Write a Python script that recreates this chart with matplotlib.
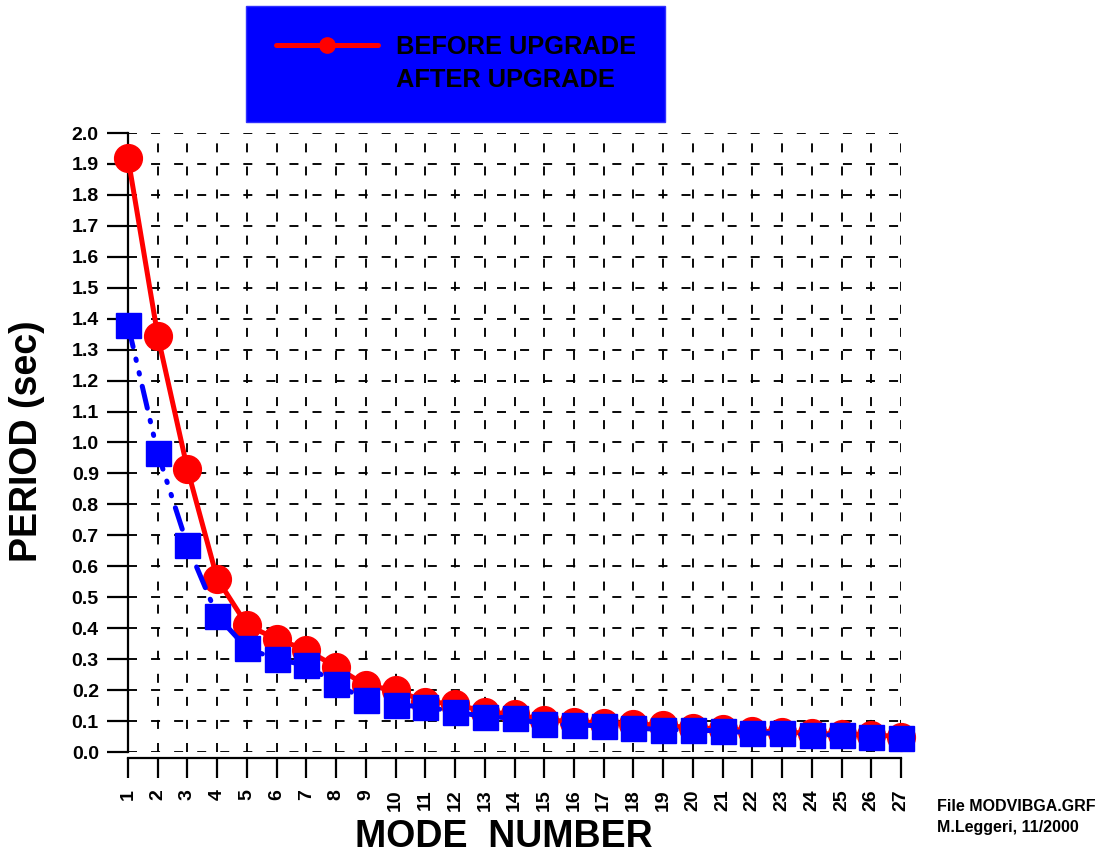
import matplotlib
matplotlib.use("Agg")
import matplotlib.pyplot as plt
from matplotlib.patches import Rectangle

plt.rcParams['font.family'] = ['Liberation Sans', 'DejaVu Sans']
plt.rcParams['font.weight'] = 'bold'

modes = list(range(1, 28))
before_upgrade = [1.92, 1.345, 0.914, 0.56, 0.41, 0.365, 0.33, 0.275, 0.215, 0.20,
                  0.163, 0.155, 0.13, 0.122, 0.104, 0.098, 0.094, 0.091, 0.086, 0.078,
                  0.075, 0.068, 0.065, 0.06, 0.058, 0.055, 0.05]
after_upgrade = [1.38, 0.966, 0.668, 0.44, 0.335, 0.30, 0.28, 0.22, 0.168, 0.152,
                 0.146, 0.13, 0.114, 0.11, 0.089, 0.088, 0.084, 0.078, 0.072, 0.071,
                 0.068, 0.062, 0.06, 0.055, 0.055, 0.05, 0.046]
y_ticks = [i / 10 for i in range(0, 21)]
legend_labels = ["BEFORE UPGRADE", "AFTER UPGRADE"]

W, H = 1110, 855
fig = plt.figure(figsize=(W / 100, H / 100), dpi=100)
ax = fig.add_axes([128 / W, 1 - 752 / H, (901 - 128) / W, (752 - 133) / H])

red, = ax.plot(modes, before_upgrade, color='#ff0000', lw=3.6, marker='o', ms=20,
               mec='#ff0000', mfc='#ff0000', clip_on=False, zorder=3,
               solid_capstyle='round')
blue, = ax.plot(modes, after_upgrade, color='#0000ff', lw=3.6, marker='s', ms=18,
                mec='#0000ff', mfc='#0000ff', clip_on=False, zorder=4,
                linestyle=(0, (4.5, 2.5, 0.3, 2.5, 0.3, 2.5)), dash_capstyle='round')

ax.set_xlim(1, 27)
ax.set_ylim(0, 2.0)

for s in ['top', 'right']:
    ax.spines[s].set_visible(False)
for s in ['left', 'bottom']:
    ax.spines[s].set_linewidth(1.6)
    ax.spines[s].set_color('black')
ax.spines['bottom'].set_position(('outward', 4.3))

ax.tick_params(axis='y', direction='out', length=15, width=1.6, pad=6, colors='black',
               labelsize=14)
ax.tick_params(axis='x', direction='out', length=14.5, width=1.6, pad=8, colors='black',
               labelsize=14, labelrotation=90)

ax.set_xticks(modes)
ax.set_xticklabels([str(m) for m in modes])
ax.set_yticks(y_ticks)
ax.set_yticklabels([f"{v:.1f}" for v in y_ticks])
for t in ax.get_xticklabels():
    t.set_fontweight('bold')
    t.set_va('top')
    t.set_ha('center')
for t in ax.get_yticklabels():
    t.set_fontweight('bold')

ax.grid(True, color='black', linestyle=(0, (4.8, 7.5)), linewidth=1.35, zorder=1)
ax.set_axisbelow(True)

xl = ax.set_xlabel("MODE  NUMBER", fontsize=27, fontweight='bold', va='center')
ax.xaxis.set_label_coords((504 - 128) / 773, (752 - 837) / 619)
yl = ax.set_ylabel("PERIOD (sec)", fontsize=27, fontweight='bold', va='center')
ax.yaxis.set_label_coords((27 - 128) / 773, (752 - 441) / 619)

# legend box
fig.patches.append(Rectangle((246 / W, 1 - 122 / H), (665 - 246) / W, (122 - 6) / H,
                             transform=fig.transFigure, facecolor='#0000ff',
                             edgecolor='#3030ff', lw=1, zorder=0))
fs = 18.3
fpx = fs * 100 / 72
leg = fig.legend([red, blue], legend_labels, loc='upper left',
                 bbox_to_anchor=(276 / W, 1 - 35 / H), frameon=False,
                 prop={'weight': 'bold', 'size': fs},
                 handlelength=102 / fpx, handletextpad=18 / fpx,
                 borderpad=0, borderaxespad=0, labelspacing=0.36, markerscale=0.55)
for t in leg.get_texts():
    t.set_color('black')

fig.text(937 / W, 1 - 811 / H, "File MODVIBGA.GRF", fontsize=11.5, fontweight='bold',
         ha='left', va='baseline')
fig.text(937 / W, 1 - 832 / H, "M.Leggeri, 11/2000", fontsize=11.5, fontweight='bold',
         ha='left', va='baseline')

fig.savefig("out.png", dpi=100)
